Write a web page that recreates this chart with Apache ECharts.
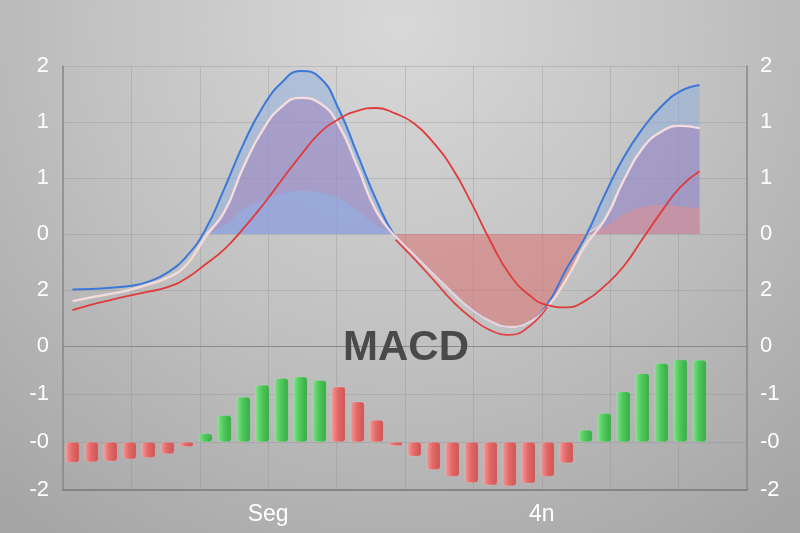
<!DOCTYPE html>
<html>
<head>
<meta charset="utf-8">
<script src="https://cdn.jsdelivr.net/npm/echarts@6/dist/echarts.min.js"></script>
<style>
  html, body { margin: 0; padding: 0; }
  #chart { width: 800px; height: 533px; }
</style>
</head>
<body>
<div id="chart"></div>
<script>
// categories (one per histogram bar)
const categories = ['1','2','3','4','5','6','7','8','9','10','11','12','13','14','15','16','17','18',
  '19','20','21','22','23','24','25','26','27','28','29','30','31','32','33','34','35','36']

// tick labels, as printed in the picture
const xTickLabels = ['', '', '', 'Seg', '', '', '', '4n', '', '', '']
const topTickLabels = ['2', '1', '1', '0', '2', '0']     // values 3 .. -2
const bottomTickLabels = ['0', '-1', '-0', '-2']          // values 2 .. -1

// MACD line (blue)
const macd = [-0.99,-0.98,-0.96,-0.93,-0.85,-0.69,-0.40,0.08,0.82,1.61,2.26,2.70,2.91,2.80,2.24,1.42,0.60,-0.05,
  -0.38,-0.72,-1.05,-1.35,-1.56,-1.66,-1.58,-1.25,-0.62,-0.05,0.69,1.36,1.88,2.28,2.55,2.66]
// signal line (red)
const signal = [-1.36,-1.26,-1.18,-1.10,-1.03,-0.95,-0.79,-0.54,-0.27,0.10,0.51,0.96,1.40,1.80,2.05,2.20,2.25,2.15,
  1.97,1.63,1.17,0.55,-0.13,-0.72,-1.08,-1.27,-1.31,-1.19,-0.93,-0.58,-0.09,0.40,0.84,1.12]
// pale line (top of purple band / edge of red band)
const pale = [-1.20,-1.13,-1.07,-1.00,-0.90,-0.78,-0.55,-0.05,0.40,1.20,1.85,2.27,2.43,2.34,1.95,1.20,0.40,-0.05,
  -0.38,-0.72,-1.05,-1.35,-1.56,-1.66,-1.58,-1.30,-0.80,-0.20,0.25,0.95,1.53,1.83,1.93,1.89]
// red shadow line under the trough
const lowerRed = [null,null,null,null,null,null,null,null,null,null,null,null,null,null,null,null,null,-0.10,
  -0.45,-0.82,-1.20,-1.50,-1.72,-1.80,-1.66,-1.30,null,null,null,null,null,null,null,null]

// filled bands
const blueBand = [null,null,null,null,null,null,null,0.08,0.82,1.61,2.26,2.70,2.91,2.80,2.24,1.42,0.60,0,
  null,null,null,null,null,null,null,null,null,0,0.69,1.36,1.88,2.28,2.55,2.66]
const purpleBand = [null,null,null,null,null,null,null,0,0.40,1.20,1.85,2.27,2.43,2.34,1.95,1.20,0.40,0,
  null,null,null,null,null,null,null,null,null,0,0.25,0.95,1.53,1.83,1.93,1.89]
const innerBlueBand = [null,null,null,null,null,null,null,0,0.15,0.45,0.60,0.72,0.77,0.74,0.64,0.42,0.15,0,
  null,null,null,null,null,null,null,null,null,null,null,null,null,null,null,null]
const innerSalmonBand = [null,null,null,null,null,null,null,null,null,null,null,null,null,null,null,null,null,null,
  null,null,null,null,null,null,null,null,null,0,0.12,0.35,0.48,0.52,0.49,0.46]
const redBand = [null,null,null,null,null,null,null,null,null,null,null,null,null,null,null,null,null,0,
  -0.38,-0.72,-1.05,-1.35,-1.56,-1.66,-1.58,-1.30,-0.80,0,null,null,null,null,null,null]

// histogram
const hist = [-0.43,-0.42,-0.40,-0.36,-0.33,-0.25,-0.10,0.18,0.56,0.94,1.19,1.33,1.36,1.29,1.15,0.84,0.46,-0.08,
  -0.30,-0.58,-0.72,-0.85,-0.90,-0.92,-0.86,-0.72,-0.44,0.25,0.60,1.05,1.43,1.64,1.72,1.71]
const histDir = ['d','d','d','d','d','d','d','u','u','u','u','u','u','u','d','d','d','d',
  'd','d','d','d','d','d','d','d','d','u','u','u','u','u','u','u']

const chart = echarts.init(document.getElementById('chart'))

const fontFamily = '"Liberation Sans", Arial, sans-serif'
const labelFont = { color: '#ffffff', fontSize: 22, fontFamily }
const gridLine = { lineStyle: { color: 'rgba(135,135,135,0.3)', width: 1 } }
const axisEdge = { show: true, lineStyle: { color: '#8a8a8a', width: 1.5 } }

const greenFill = new echarts.graphic.LinearGradient(0, 0, 1, 0, [
  { offset: 0, color: '#80e287' }, { offset: 0.45, color: '#4ec85a' }, { offset: 1, color: '#3aa946' }
])
const redFill = new echarts.graphic.LinearGradient(0, 0, 1, 0, [
  { offset: 0, color: '#f39a98' }, { offset: 0.45, color: '#e36968' }, { offset: 1, color: '#cc5453' }
])

function band(name, data, color, lineColor) {
  return {
    name, type: 'line', data, smooth: true, symbol: 'none',
    xAxisIndex: 0, yAxisIndex: 0,
    lineStyle: { width: lineColor ? 1.5 : 0, color: lineColor || color },
    areaStyle: { color, origin: 0 },
    silent: true
  }
}
function line(name, data, color, width) {
  return {
    name, type: 'line', data, smooth: true, symbol: 'none',
    xAxisIndex: 0, yAxisIndex: 0,
    lineStyle: { width, color }, silent: true
  }
}

const option = {
  backgroundColor: {
    type: 'radial', x: 0.5, y: 0.05, r: 1.15,
    colorStops: [
      { offset: 0, color: '#d8d8d8' },
      { offset: 0.5, color: '#c2c2c2' },
      { offset: 1, color: '#a6a6a6' }
    ]
  },
  animation: false,
  graphic: [{
    type: 'text', left: 343, top: 327, z: 100,
    style: { text: 'MACD', fill: '#4a4a4a', font: 'bold 42px "Liberation Sans", Arial, sans-serif' }
  }],
  grid: [
    { left: 63, right: 53, top: 66, height: 280 },
    { left: 63, right: 53, top: 346, height: 144 }
  ],
  xAxis: [
    { type: 'category', gridIndex: 0, position: 'top', data: categories, boundaryGap: true, show: false },
    {
      type: 'value', gridIndex: 0, position: 'bottom', min: 0, max: 10, interval: 1,
      axisLine: { show: true, onZero: false, lineStyle: { color: '#8a8a8a', width: 1 } },
      axisTick: { show: false }, axisLabel: { show: false }, splitLine: gridLine
    },
    { type: 'category', gridIndex: 1, position: 'top', data: categories, boundaryGap: true, show: false },
    {
      type: 'value', gridIndex: 1, position: 'bottom', min: 0, max: 10, interval: 1,
      axisLine: { show: true, onZero: false, lineStyle: { color: '#7a7a7a', width: 1.5 } },
      axisTick: { show: false },
      axisLabel: { color: '#ffffff', fontFamily, fontSize: 23, margin: 13, formatter: v => xTickLabels[v] || '' },
      splitLine: gridLine
    }
  ],
  yAxis: [
    {
      type: 'value', gridIndex: 0, min: -2, max: 3, interval: 1, position: 'left',
      axisLine: axisEdge, axisTick: { show: false },
      axisLabel: Object.assign({ margin: 14, formatter: v => topTickLabels[3 - v] }, labelFont),
      splitLine: gridLine
    },
    {
      type: 'value', gridIndex: 0, min: -2, max: 3, interval: 1, position: 'right',
      axisLine: axisEdge, axisTick: { show: false },
      axisLabel: Object.assign({ margin: 13, formatter: v => topTickLabels[3 - v] }, labelFont),
      splitLine: { show: false }
    },
    {
      type: 'value', gridIndex: 1, min: -1, max: 2, interval: 1, position: 'left',
      axisLine: axisEdge, axisTick: { show: false },
      axisLabel: Object.assign({ margin: 14, showMaxLabel: false, formatter: v => bottomTickLabels[2 - v] }, labelFont),
      splitLine: gridLine
    },
    {
      type: 'value', gridIndex: 1, min: -1, max: 2, interval: 1, position: 'right',
      axisLine: axisEdge, axisTick: { show: false },
      axisLabel: Object.assign({ margin: 13, showMaxLabel: false, formatter: v => bottomTickLabels[2 - v] }, labelFont),
      splitLine: { show: false }
    }
  ],
  series: [
    band('blueBand', blueBand, 'rgba(130,170,225,0.62)'),
    band('purpleBand', purpleBand, 'rgba(160,115,185,0.6)', 'rgba(240,205,215,0.85)'),
    band('innerBlue', innerBlueBand, 'rgba(135,185,240,0.6)'),
    band('innerSalmon', innerSalmonBand, 'rgba(238,140,130,0.65)'),
    band('redBand', redBand, 'rgba(222,105,105,0.72)'),
    line('MACD', macd, '#3b78d8', 2),
    line('pale', pale, 'rgba(248,222,222,0.9)', 2.4),
    line('lowerRed', lowerRed, '#df4444', 1.8),
    line('Signal', signal, '#e03b3b', 1.8),
    {
      name: 'Histogram', type: 'bar', xAxisIndex: 2, yAxisIndex: 2,
      data: hist, barWidth: 14, silent: true,
      itemStyle: {
        color: p => histDir[p.dataIndex] === 'u' ? greenFill : redFill,
        borderColor: 'rgba(255,255,255,0.25)', borderWidth: 0.6,
        borderRadius: 3
      }
    }
  ]
}

chart.setOption(option)
</script>
</body>
</html>
